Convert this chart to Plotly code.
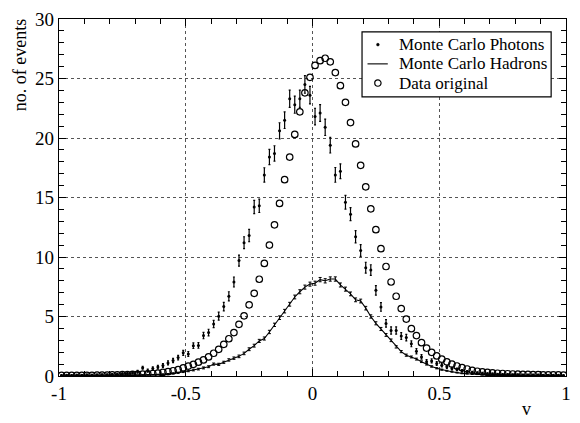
import numpy as np
import plotly.graph_objects as go

# Histogram binning: 100 bins of width 0.02 on [-1, 1]
bin_edges = np.linspace(-1.0, 1.0, 101)
v_centers = 0.5 * (bin_edges[:-1] + bin_edges[1:])

# Data original (open circles)
data_original = [
    0.05, 0.05, 0.05, 0.05, 0.06, 0.06, 0.06, 0.07, 0.07, 0.08,
    0.09, 0.10, 0.11, 0.12, 0.13, 0.14, 0.16, 0.18, 0.21, 0.25,
    0.30, 0.36, 0.44, 0.54, 0.68, 0.83, 0.98, 1.16, 1.35, 1.60,
    1.91, 2.24, 2.66, 3.13, 3.65, 4.34, 5.06, 5.98, 6.95, 8.13,
    9.46, 11.0, 12.7, 14.5, 16.5, 18.4, 20.3, 22.2, 23.8, 25.1,
    26.1, 26.5, 26.7, 26.4, 25.5, 24.4, 23.0, 21.3, 19.5, 17.7,
    15.9, 14.05, 12.3, 10.7, 9.2, 7.9, 6.7, 5.67, 4.78, 3.98,
    3.40, 2.80, 2.35, 1.99, 1.69, 1.41, 1.19, 1.00, 0.84, 0.70,
    0.59, 0.48, 0.40, 0.34, 0.30, 0.26, 0.23, 0.21, 0.19, 0.17,
    0.16, 0.14, 0.13, 0.12, 0.11, 0.10, 0.10, 0.09, 0.09, 0.08,
]

# Monte Carlo photons (points with error bars)
mc_photons = [
    0.05, 0.06, 0.05, 0.07, 0.06, 0.08, 0.07, 0.09, 0.10, 0.10,
    0.13, 0.15, 0.18, 0.22, 0.28, 0.36, 0.70, 0.45, 0.62, 0.75,
    0.88, 1.10, 1.30, 1.55, 1.95, 1.85, 2.55, 2.57, 3.40, 3.65,
    4.37, 5.03, 5.83, 6.70, 7.90, 9.70, 11.2, 11.8, 14.2, 14.3,
    16.9, 18.4, 18.7, 20.6, 21.5, 23.3, 22.8, 23.3, 24.5, 23.6,
    21.8, 22.1, 20.9, 19.4, 16.9, 17.2, 14.6, 13.6, 11.7, 10.55,
    9.10, 8.90, 7.20, 5.80, 4.42, 3.82, 3.82, 3.36, 3.23, 2.71,
    2.08, 1.60, 1.20, 1.27, 1.05, 0.90, 0.77, 0.63, 0.55, 0.44,
    0.36, 0.30, 0.26, 0.22, 0.19, 0.17, 0.15, 0.13, 0.12, 0.11,
    0.10, 0.09, 0.09, 0.08, 0.08, 0.07, 0.07, 0.06, 0.06, 0.05,
]
mc_photons_err = [
    0.06, 0.06, 0.06, 0.06, 0.06, 0.07, 0.07, 0.07, 0.07, 0.07,
    0.08, 0.08, 0.09, 0.09, 0.10, 0.11, 0.12, 0.13, 0.14, 0.15,
    0.16, 0.17, 0.18, 0.19, 0.21, 0.21, 0.24, 0.24, 0.27, 0.28,
    0.30, 0.33, 0.35, 0.38, 0.42, 0.46, 0.50, 0.52, 0.56, 0.56,
    0.60, 0.64, 0.65, 0.68, 0.70, 0.72, 0.72, 0.72, 0.74, 0.73,
    0.70, 0.71, 0.69, 0.66, 0.62, 0.62, 0.58, 0.55, 0.52, 0.49,
    0.46, 0.45, 0.40, 0.36, 0.32, 0.30, 0.30, 0.28, 0.27, 0.25,
    0.22, 0.19, 0.17, 0.17, 0.15, 0.14, 0.13, 0.12, 0.11, 0.10,
    0.09, 0.09, 0.08, 0.08, 0.07, 0.07, 0.06, 0.06, 0.06, 0.05,
    0.05, 0.05, 0.05, 0.05, 0.05, 0.05, 0.05, 0.04, 0.04, 0.04,
]

# Monte Carlo hadrons (line with error bars)
mc_hadrons = [
    0.02, 0.02, 0.02, 0.02, 0.02, 0.03, 0.03, 0.03, 0.03, 0.04,
    0.04, 0.04, 0.05, 0.05, 0.06, 0.07, 0.08, 0.09, 0.10, 0.12,
    0.14, 0.17, 0.22, 0.27, 0.35, 0.42, 0.50, 0.58, 0.68, 0.78,
    1.00, 0.98, 1.15, 1.35, 1.50, 1.65, 1.90, 2.25, 2.55, 2.95,
    3.15, 3.70, 4.30, 4.90, 5.45, 6.03, 6.64, 7.08, 7.47, 7.72,
    7.80, 8.10, 8.00, 8.15, 8.15, 7.65, 7.30, 6.90, 6.40, 6.30,
    5.70, 5.00, 4.43, 3.95, 3.45, 3.00, 2.45, 2.05, 1.75, 1.60,
    1.42, 1.20, 0.98, 0.80, 0.65, 0.53, 0.44, 0.36, 0.28, 0.22,
    0.19, 0.16, 0.14, 0.12, 0.10, 0.09, 0.08, 0.07, 0.06, 0.06,
    0.05, 0.05, 0.05, 0.04, 0.04, 0.04, 0.04, 0.03, 0.03, 0.03,
]
mc_hadrons_err = [
    0.01, 0.01, 0.01, 0.01, 0.01, 0.01, 0.01, 0.01, 0.01, 0.01,
    0.02, 0.02, 0.02, 0.02, 0.02, 0.02, 0.03, 0.03, 0.03, 0.03,
    0.04, 0.04, 0.05, 0.05, 0.06, 0.06, 0.07, 0.07, 0.08, 0.08,
    0.09, 0.09, 0.09, 0.10, 0.10, 0.11, 0.11, 0.12, 0.12, 0.13,
    0.13, 0.14, 0.14, 0.15, 0.15, 0.16, 0.16, 0.17, 0.17, 0.17,
    0.17, 0.18, 0.18, 0.18, 0.18, 0.17, 0.17, 0.16, 0.16, 0.16,
    0.15, 0.14, 0.13, 0.13, 0.12, 0.11, 0.10, 0.09, 0.09, 0.08,
    0.08, 0.07, 0.06, 0.06, 0.05, 0.05, 0.04, 0.04, 0.03, 0.03,
    0.03, 0.03, 0.02, 0.02, 0.02, 0.02, 0.02, 0.02, 0.02, 0.02,
    0.01, 0.01, 0.01, 0.01, 0.01, 0.01, 0.01, 0.01, 0.01, 0.01,
]

series_names = ["Monte Carlo Photons", "Monte Carlo Hadrons", "Data original"]

x_ticks = [-1, -0.5, 0, 0.5, 1]
x_tick_labels = ["-1", "-0.5", "0", "0.5", "1"]
y_ticks = [0, 5, 10, 15, 20, 25, 30]

SERIF = "Liberation Serif"
INK = "black"

fig = go.Figure()

fig.add_trace(go.Scatter(
    x=v_centers, y=mc_photons, mode="markers", name=series_names[0],
    marker=dict(symbol="circle", size=3, color=INK),
    error_y=dict(type="data", array=mc_photons_err, visible=True,
                 color=INK, thickness=1.2, width=1),
))

fig.add_trace(go.Scatter(
    x=v_centers, y=mc_hadrons, mode="lines", name=series_names[1],
    line=dict(color=INK, width=1.1),
    error_y=dict(type="data", array=mc_hadrons_err, visible=True,
                 color=INK, thickness=1, width=1.5),
))

fig.add_trace(go.Scatter(
    x=v_centers, y=data_original, mode="markers", name=series_names[2],
    marker=dict(symbol="circle-open", size=6.5, color=INK, line=dict(width=1.2, color=INK)),
))

axis_common = dict(
    showline=True, linecolor=INK, linewidth=1.2, mirror="ticks",
    ticks="inside", ticklen=7, tickwidth=1, tickcolor=INK,
    showgrid=True, gridcolor="#555555", griddash="dot", gridwidth=1,
    zeroline=False,
    tickfont=dict(family=SERIF, size=19, color=INK),
)

fig.update_xaxes(
    range=[-1, 1], tickmode="array", tickvals=x_ticks, ticktext=x_tick_labels,
    minor=dict(dtick=0.1, ticks="inside", ticklen=5, tickcolor=INK, showgrid=False),
    **axis_common,
)
fig.update_yaxes(
    range=[0, 30], tickmode="array", tickvals=y_ticks,
    minor=dict(dtick=1, ticks="inside", ticklen=5, tickcolor=INK, showgrid=False),
    **axis_common,
)

# Axis titles: y title near the top of the left edge, x title under the right end
fig.add_annotation(
    text="no. of events", xref="paper", yref="paper", x=-0.077, y=1.005,
    xanchor="center", yanchor="top", textangle=-90, showarrow=False,
    font=dict(family=SERIF, size=18, color=INK),
)
fig.add_annotation(
    text="v", xref="paper", yref="paper", x=0.922, y=-0.06,
    xanchor="center", yanchor="top", showarrow=False,
    font=dict(family=SERIF, size=18, color=INK),
)

# Compact boxed key in the upper right
key_box = dict(x0=0.5977, x1=0.9707, y0=0.7818, y1=0.9641)
key_rows = [0.9282, 0.8743, 0.8204]
key_sym_x = 0.629
key_text_x = 0.668
rx, ry = 3.2 / 512, 3.2 / 362

fig.add_shape(type="rect", xref="paper", yref="paper", **key_box,
              line=dict(color=INK, width=1.2), fillcolor="white", layer="above")
# photons: small dot
fig.add_shape(type="circle", xref="paper", yref="paper",
              x0=key_sym_x - 1.4 / 512, x1=key_sym_x + 1.4 / 512,
              y0=key_rows[0] - 1.4 / 362, y1=key_rows[0] + 1.4 / 362,
              fillcolor=INK, line=dict(color=INK, width=0.5), layer="above")
# hadrons: short line
fig.add_shape(type="line", xref="paper", yref="paper",
              x0=key_sym_x - 0.0205, x1=key_sym_x + 0.0195,
              y0=key_rows[1], y1=key_rows[1],
              line=dict(color=INK, width=1.1), layer="above")
# data: open circle
fig.add_shape(type="circle", xref="paper", yref="paper",
              x0=key_sym_x - rx, x1=key_sym_x + rx,
              y0=key_rows[2] - ry, y1=key_rows[2] + ry,
              line=dict(color=INK, width=1.2), layer="above")
for name, row_y in zip(series_names, key_rows):
    fig.add_annotation(
        text=name, xref="paper", yref="paper", x=key_text_x, y=row_y,
        xanchor="left", yanchor="middle", showarrow=False, borderpad=0,
        font=dict(family=SERIF, size=17, color=INK),
    )

fig.update_layout(
    width=580, height=423,
    margin=dict(l=59, r=9, t=14, b=47),
    paper_bgcolor="white", plot_bgcolor="white",
    showlegend=False,
)

fig.write_html("out.html")
